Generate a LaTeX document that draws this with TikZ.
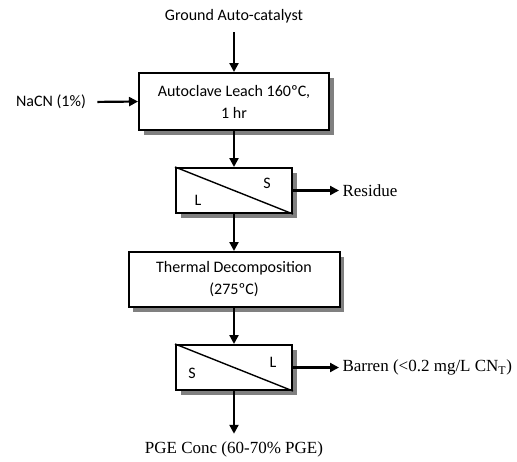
\documentclass[tikz,border=0pt]{standalone}
\usepackage{fontspec}
\setmainfont{Liberation Serif}
\newfontfamily\calfont{Carlito}
\usetikzlibrary{arrows.meta,positioning,shadows}

\begin{document}
\begin{tikzpicture}[x=1pt,y=-1pt,
  flow/.style={-{Triangle[length=9pt,width=9pt]},line width=2.2pt},
  unit/.style={draw,line width=2pt,fill=white,rectangle,align=center,
               font=\calfont\fontsize{16}{22}\selectfont,
               drop shadow={shadow xshift=4.5pt,shadow yshift=-4.5pt,fill=black!50,opacity=1}},
  sepbox/.style={unit,minimum width=116pt,minimum height=45pt},
  sans/.style={font=\calfont\fontsize{16}{19}\selectfont},
  serif/.style={font=\fontsize{17}{20}\selectfont}
]
  \useasboundingbox (0,0) rectangle (517,461);

  % Feeds
  \node[sans] (feed) at (234,16) {Ground Auto-catalyst};
  \node[sans] (nacn) at (51,102) {NaCN (1\%)};

  % Process units
  \node[unit,minimum width=190pt,minimum height=57pt] (leach) at (234,101.5) {Autoclave Leach 160ºC,\\1 hr};
  \node[sepbox] (sepA) at (234,190.5) {};
  \node[unit,minimum width=211pt,minimum height=55pt] (thermal) at (234,279.5) {Thermal Decomposition\\(275ºC)};
  \node[sepbox] (sepB) at (234,367.5) {};

  % Splits
  \draw[line width=1.4pt] (sepA.north west) -- (sepA.south east);
  \draw[line width=1.4pt] (sepB.north west) -- (sepB.south east);
  \node[sans] (sA) at (267,183) {S};
  \node[sans] (lA) at (198,200) {L};
  \node[sans] (lB) at (273,362) {L};
  \node[sans] (sB) at (192,373) {S};

  % Products
  \node[serif,anchor=west] (residue) at (339,190.5) {Residue};
  \node[serif,anchor=west] (barren) at (339,367.5) {Barren (<0.2 mg/L CN\textsubscript{T})};
  \node[serif] (pge) at (234,449) {PGE Conc (60-70\% PGE)};

  % Streams
  \draw[flow,shorten <=6pt] (feed.south) -- (leach.north);
  \draw[flow,shorten <=8pt] (nacn.east) -- (leach.west);
  \draw[flow] (leach.south) -- (sepA.north);
  \draw[flow] (sepA.east) -- (residue.west);
  \draw[flow] (sepA.south) -- (thermal.north);
  \draw[flow] (thermal.south) -- (sepB.north);
  \draw[flow] (sepB.east) -- (barren.west);
  \draw[flow,shorten >=4pt] (sepB.south) -- (pge.north);
\end{tikzpicture}
\end{document}
